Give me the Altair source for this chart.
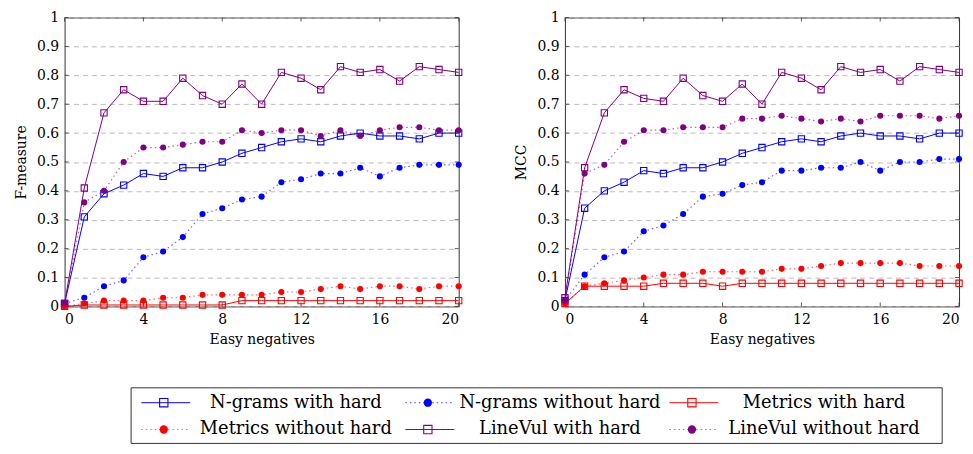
import altair as alt
import pandas as pd

x_vals = list(range(21))

series_names = [
    "N-grams with hard", "N-grams without hard", "Metrics with hard",
    "Metrics without hard", "LineVul with hard", "LineVul without hard",
]
series_colors = ["#0000ff", "#0000ff", "#ff0000", "#ff0000", "#800080", "#800080"]
series_hard = [True, False, True, False, True, False]

# F-measure
f_ngrams_hard = [0.01, 0.31, 0.39, 0.42, 0.46, 0.45, 0.48, 0.48, 0.50, 0.53, 0.55, 0.57, 0.58, 0.57, 0.59, 0.60, 0.59, 0.59, 0.58, 0.60, 0.60]
f_ngrams_nohard = [0.01, 0.03, 0.07, 0.09, 0.17, 0.19, 0.24, 0.32, 0.34, 0.37, 0.38, 0.43, 0.44, 0.46, 0.46, 0.48, 0.45, 0.48, 0.49, 0.49, 0.49]
f_metrics_hard = [0.00, 0.005, 0.005, 0.005, 0.005, 0.005, 0.005, 0.005, 0.005, 0.02, 0.02, 0.02, 0.02, 0.02, 0.02, 0.02, 0.02, 0.02, 0.02, 0.02, 0.02]
f_metrics_nohard = [0.00, 0.01, 0.02, 0.02, 0.02, 0.03, 0.03, 0.04, 0.04, 0.04, 0.04, 0.05, 0.05, 0.06, 0.07, 0.06, 0.07, 0.07, 0.06, 0.07, 0.07]
f_linevul_hard = [0.01, 0.41, 0.67, 0.75, 0.71, 0.71, 0.79, 0.73, 0.70, 0.77, 0.70, 0.81, 0.79, 0.75, 0.83, 0.81, 0.82, 0.78, 0.83, 0.82, 0.81]
f_linevul_nohard = [0.01, 0.36, 0.40, 0.50, 0.55, 0.55, 0.56, 0.57, 0.57, 0.61, 0.60, 0.61, 0.61, 0.59, 0.61, 0.59, 0.61, 0.62, 0.62, 0.61, 0.61]

# MCC
m_ngrams_hard = [0.02, 0.34, 0.40, 0.43, 0.47, 0.46, 0.48, 0.48, 0.50, 0.53, 0.55, 0.57, 0.58, 0.57, 0.59, 0.60, 0.59, 0.59, 0.58, 0.60, 0.60]
m_ngrams_nohard = [0.02, 0.11, 0.17, 0.19, 0.26, 0.28, 0.32, 0.38, 0.39, 0.42, 0.43, 0.47, 0.47, 0.48, 0.48, 0.50, 0.47, 0.50, 0.50, 0.51, 0.51]
m_metrics_hard = [0.01, 0.07, 0.07, 0.07, 0.07, 0.08, 0.08, 0.08, 0.07, 0.08, 0.08, 0.08, 0.08, 0.08, 0.08, 0.08, 0.08, 0.08, 0.08, 0.08, 0.08]
m_metrics_nohard = [0.01, 0.07, 0.08, 0.09, 0.10, 0.11, 0.11, 0.12, 0.12, 0.12, 0.12, 0.13, 0.13, 0.14, 0.15, 0.15, 0.15, 0.15, 0.14, 0.14, 0.14]
m_linevul_hard = [0.03, 0.48, 0.67, 0.75, 0.72, 0.71, 0.79, 0.73, 0.71, 0.77, 0.70, 0.81, 0.79, 0.75, 0.83, 0.81, 0.82, 0.78, 0.83, 0.82, 0.81]
m_linevul_nohard = [0.02, 0.46, 0.49, 0.57, 0.61, 0.61, 0.62, 0.62, 0.62, 0.65, 0.65, 0.66, 0.65, 0.64, 0.65, 0.64, 0.66, 0.66, 0.66, 0.65, 0.66]

x_ticks = [0, 4, 8, 12, 16, 20]
y_ticks = [0, 0.1, 0.2, 0.3, 0.4, 0.5, 0.6, 0.7, 0.8, 0.9, 1]

legend_cols = [0, 1, 2, 0, 1, 2]
legend_rows = [0, 0, 0, 1, 1, 1]

FONT = "DejaVu Serif"
W, H = 397, 291

f_series = [f_ngrams_hard, f_ngrams_nohard, f_metrics_hard, f_metrics_nohard, f_linevul_hard, f_linevul_nohard]
m_series = [m_ngrams_hard, m_ngrams_nohard, m_metrics_hard, m_metrics_nohard, m_linevul_hard, m_linevul_nohard]


def make_df(all_series):
    rows = []
    for name, hard, vals in zip(series_names, series_hard, all_series):
        for x, v in zip(x_vals, vals):
            rows.append({"x": x, "v": v, "series": name, "hard": hard})
    return pd.DataFrame(rows)


color_scale = alt.Scale(domain=series_names, range=series_colors)


def panel(all_series, ytitle):
    df = make_df(all_series)
    base = alt.Chart(df)
    xaxis = alt.Axis(values=x_ticks, title="Easy negatives", grid=False, ticks=False,
                     domain=False, labelPadding=6, titlePadding=6, labelFontSize=14,
                     titleFontSize=14, titleFontWeight="normal", labelFont=FONT,
                     titleFont=FONT, labelColor="black", titleColor="black")
    yaxis = alt.Axis(values=y_ticks, format="~g", title=ytitle, grid=True,
                     gridDash=[5, 4], gridColor="#bbbbbb", gridWidth=1,
                     ticks=False, domain=False, labelPadding=6, titlePadding=8,
                     labelFontSize=14, titleFontSize=14, titleFontWeight="normal",
                     labelFont=FONT, titleFont=FONT, labelColor="black",
                     titleColor="black", labelOverlap=False)
    xs = alt.Scale(domain=[0, 20], nice=False)
    ys = alt.Scale(domain=[0, 1], nice=False)
    xenc = alt.X("x:Q", scale=xs, axis=xaxis)
    yenc = alt.Y("v:Q", scale=ys, axis=yaxis)
    col = alt.Color("series:N", scale=color_scale, legend=None)

    solid = base.transform_filter("datum.hard").mark_line(strokeWidth=1).encode(
        x=xenc, y=yenc, color=col, detail="series:N")
    dotted = base.transform_filter("!datum.hard").mark_line(
        strokeWidth=1.2, strokeDash=[1.5, 3], opacity=0.6).encode(
        x=xenc, y=yenc, color=col, detail="series:N")
    squares = base.transform_filter("datum.hard").mark_point(
        shape="square", filled=False, size=40, strokeWidth=1.1, opacity=1).encode(
        x=xenc, y=yenc, color=col)
    circles = base.transform_filter("!datum.hard").mark_point(
        shape="circle", filled=True, size=38, opacity=1).encode(
        x=xenc, y=yenc, color=col)

    ytdf = pd.DataFrame({"v": y_ticks})
    xtdf = pd.DataFrame({"x": x_ticks})
    yt_left = alt.Chart(ytdf).mark_rule(color="#333333", strokeWidth=0.8).encode(
        y=yenc, x=alt.value(0), x2=alt.value(4))
    yt_right = alt.Chart(ytdf).mark_rule(color="#333333", strokeWidth=0.8).encode(
        y=yenc, x=alt.value(W - 4), x2=alt.value(W))
    xt_bot = alt.Chart(xtdf).mark_rule(color="#333333", strokeWidth=0.8).encode(
        x=xenc, y=alt.value(H - 4), y2=alt.value(H))
    xt_top = alt.Chart(xtdf).mark_rule(color="#333333", strokeWidth=0.8).encode(
        x=xenc, y=alt.value(0), y2=alt.value(4))

    return alt.layer(solid, dotted, yt_left, yt_right, xt_bot, xt_top, squares, circles).properties(
        width=W, height=H)


left = panel(f_series, "F-measure")
right = panel(m_series, "MCC")
top = alt.hconcat(left, right, spacing=50)

# Legend (origin aligned with the left plot area)
ldf = pd.DataFrame({
    "series": series_names,
    "col": legend_cols,
    "row": legend_rows,
    "hard": series_hard,
})
ldf["x0"] = ldf["col"] + 0.02
ldf["x1"] = ldf["col"] + 0.205
ldf["xm"] = ldf["col"] + 0.105
ldf["xt"] = ldf["col"] + 0.605

LW, LH = 885, 56
lxs = alt.Scale(domain=[0, 3], range=[72, 870])
lys = alt.Scale(domain=[0, 1], range=[15, 42])
ly = alt.Y("row:Q", scale=lys, axis=None)
lcol = alt.Color("series:N", scale=color_scale, legend=None)
lbase = alt.Chart(ldf)

box = alt.Chart(pd.DataFrame({"a": [0]})).mark_rect(
    fill="white", stroke="#333333", strokeWidth=1).encode(
    x=alt.value(67), x2=alt.value(884), y=alt.value(0), y2=alt.value(LH))
lsolid = lbase.transform_filter("datum.hard").mark_rule(strokeWidth=1).encode(
    x=alt.X("x0:Q", scale=lxs, axis=None), x2="x1:Q", y=ly, color=lcol)
ldotted = lbase.transform_filter("!datum.hard").mark_rule(
    strokeWidth=1.2, strokeDash=[1.5, 3], opacity=0.6).encode(
    x=alt.X("x0:Q", scale=lxs, axis=None), x2="x1:Q", y=ly, color=lcol)
lsq = lbase.transform_filter("datum.hard").mark_point(
    shape="square", filled=False, size=70, strokeWidth=1.1, opacity=1).encode(
    x=alt.X("xm:Q", scale=lxs, axis=None), y=ly, color=lcol)
lci = lbase.transform_filter("!datum.hard").mark_point(
    shape="circle", filled=True, size=70, opacity=1).encode(
    x=alt.X("xm:Q", scale=lxs, axis=None), y=ly, color=lcol)
ltext = lbase.mark_text(font=FONT, fontSize=18, color="black", align="center", baseline="middle").encode(
    x=alt.X("xt:Q", scale=lxs, axis=None), y=ly, text="series:N")

legend = alt.layer(box, lsolid, ldotted, lsq, lci, ltext).properties(
    width=LW, height=LH, view=alt.ViewBackground(stroke="transparent"))

chart = alt.vconcat(top, legend, spacing=40).properties(
    padding={"left": 6, "top": 0, "right": 0, "bottom": 0}, background="white").configure_view(
    stroke="#333333", strokeWidth=1)

chart.save("out.html", embed_options={"renderer": "svg", "actions": False})
